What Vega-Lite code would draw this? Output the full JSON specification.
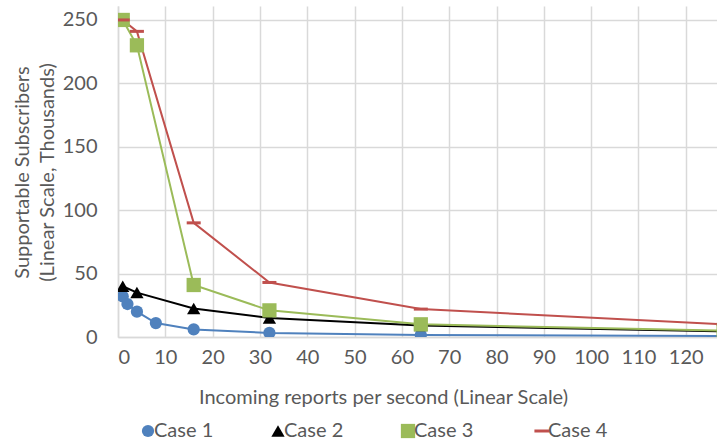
{
  "$schema": "https://vega.github.io/schema/vega-lite/v6.json",
  "width": 599,
  "height": 331,
  "autosize": {"type": "none"},
  "padding": {"left": 118, "top": 6, "right": 0, "bottom": 107},
  "background": "white",
  "config": {
    "font": "Lato",
    "view": {"stroke": null},
    "axis": {
      "labelFont": "Lato", "titleFont": "Lato",
      "labelFontSize": 20, "titleFontSize": 20,
      "labelColor": "#595959", "titleColor": "#595959",
      "titleFontWeight": "normal",
      "gridColor": "#D9D9D9", "gridWidth": 1.5,
      "domainColor": "#D9D9D9", "domainWidth": 1.5,
      "ticks": false
    },
    "legend": {
      "labelFont": "Lato", "labelFontSize": 20, "labelColor": "#595959",
      "orient": "none", "direction": "horizontal", "columns": 4, "legendX": 20, "legendY": 415,
      "padding": 0, "labelOffset": -4, "columnPadding": 54, "title": null
    }
  },
  "data": {
    "values": [
      {"x": 1, "y": 32, "series": "Case 1"},
      {"x": 2, "y": 26, "series": "Case 1"},
      {"x": 4, "y": 20, "series": "Case 1"},
      {"x": 8, "y": 11, "series": "Case 1"},
      {"x": 16, "y": 6, "series": "Case 1"},
      {"x": 32, "y": 3.2, "series": "Case 1"},
      {"x": 64, "y": 1.6, "series": "Case 1"},
      {"x": 128, "y": 0.8, "series": "Case 1"},
      {"x": 1, "y": 40, "series": "Case 2"},
      {"x": 4, "y": 35, "series": "Case 2"},
      {"x": 16, "y": 22.5, "series": "Case 2"},
      {"x": 32, "y": 15, "series": "Case 2"},
      {"x": 64, "y": 9, "series": "Case 2"},
      {"x": 128, "y": 4.5, "series": "Case 2"},
      {"x": 1, "y": 250, "series": "Case 3"},
      {"x": 4, "y": 230, "series": "Case 3"},
      {"x": 16, "y": 41, "series": "Case 3"},
      {"x": 32, "y": 21, "series": "Case 3"},
      {"x": 64, "y": 10, "series": "Case 3"},
      {"x": 128, "y": 5, "series": "Case 3"},
      {"x": 1, "y": 250, "series": "Case 4"},
      {"x": 4, "y": 241, "series": "Case 4"},
      {"x": 16, "y": 90, "series": "Case 4"},
      {"x": 32, "y": 43, "series": "Case 4"},
      {"x": 64, "y": 22, "series": "Case 4"},
      {"x": 128, "y": 10, "series": "Case 4"}
    ]
  },
  "encoding": {
    "x": {
      "field": "x", "type": "quantitative",
      "scale": {"domain": [0, 126.6], "nice": false, "zero": true},
      "axis": {
        "values": [0, 10, 20, 30, 40, 50, 60, 70, 80, 90, 100, 110, 120],
        "labelPadding": 10,
        "title": "Incoming reports per second (Linear Scale)",
        "titleX": 265, "titleY": 60, "titleBaseline": "middle", "titleAlign": "center"
      }
    },
    "y": {
      "field": "y", "type": "quantitative",
      "scale": {"domain": [0, 261], "nice": false},
      "axis": {
        "values": [0, 50, 100, 150, 200, 250],
        "labelPadding": 21,
        "title": ["Supportable Subscribers", "(Linear Scale, Thousands)"],
        "titleX": -96, "titleY": 166, "titleBaseline": "middle", "titleAlign": "center", "titleAngle": -90,
        "titleLineHeight": 25
      }
    },
    "color": {
      "field": "series", "type": "nominal",
      "scale": {"domain": ["Case 1", "Case 2", "Case 3", "Case 4"], "range": ["#4F81BD", "#000000", "#9BBB59", "#C0504D"]},
      "legend": {
        "encode": {"symbols": {"update": {
          "shape": {"scale": "shape", "field": "value"},
          "size": {"scale": "size", "field": "value"},
          "fill": {"scale": "color", "field": "value"},
          "stroke": {"scale": "color", "field": "value"},
          "strokeWidth": {"signal": "datum.value === 'Case 4' ? 3 : 0"},
          "opacity": {"value": 1}
        }}}
      }
    }
  },
  "layer": [
    {
      "mark": {"type": "line", "strokeWidth": 2, "clip": true}
    },
    {
      "transform": [{"filter": "datum.series !== 'Case 4'"}],
      "mark": {"type": "point", "filled": true, "opacity": 1, "clip": true},
      "encoding": {
        "shape": {
          "field": "series", "type": "nominal",
          "scale": {"domain": ["Case 1", "Case 2", "Case 3", "Case 4"], "range": ["circle", "triangle-up", "square", "stroke"]}
        },
        "size": {
          "field": "series", "type": "nominal",
          "scale": {"domain": ["Case 1", "Case 2", "Case 3", "Case 4"], "range": [150, 230, 230, 196]}
        }
      }
    },
    {
      "transform": [{"filter": "datum.series === 'Case 4'"}],
      "mark": {"type": "point", "shape": "stroke", "filled": false, "strokeWidth": 3, "size": 196, "opacity": 1, "clip": true}
    }
  ]
}
